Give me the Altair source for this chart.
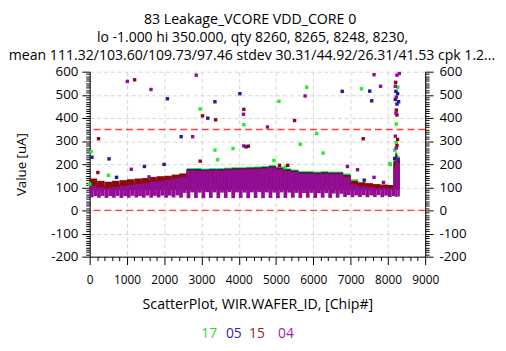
import altair as alt
import pandas as pd

FONT = "Open Sans"

series_names = ["17", "05", "15", "04"]
series_colors = ["#22ee22", "#1c1ca0", "#8c0a0a", "#930d97"]
legend_colors = ["#22dd22", "#2a2aa8", "#a01c1c", "#a020a8"]

title_lines = [
    "83 Leakage_VCORE VDD_CORE 0",
    "lo -1.000 hi 350.000,  qty 8260, 8265, 8248, 8230,",
    "mean 111.32/103.60/109.73/97.46 stdev 30.31/44.92/26.31/41.53 cpk 1.2...",
]
x_title = "ScatterPlot, WIR.WAFER_ID, [Chip#]"
y_title = "Value [uA]"
limit_values = [350, 0]

# dense body of the scatter: upper envelope per series, per 200-chip bin
hi_bin_start = list(range(0, 8200, 200))
hi_17 = [118, 110, 108, 112, 116, 120, 124, 128, 134, 138, 142, 148, 156, 183, 183, 181, 183, 183, 185, 187, 187,
         189, 190, 192, 196, 189, 182, 177, 170, 170, 168, 170, 168, 168, 160, 135, 118, 112, 108, 106, 104]
hi_05 = [112, 108, 106, 110, 114, 118, 122, 126, 132, 136, 140, 146, 152, 179, 179, 177, 179, 179, 181, 183, 183,
         185, 186, 188, 192, 185, 178, 173, 166, 166, 164, 166, 164, 164, 154, 126, 118, 114, 110, 108, 106]
hi_15 = [138, 128, 124, 128, 131, 135, 138, 140, 145, 148, 150, 155, 160, 175, 175, 173, 175, 175, 177, 179, 179,
         181, 182, 184, 188, 181, 174, 169, 162, 162, 160, 162, 160, 160, 150, 128, 122, 118, 114, 112, 110]
hi_04 = [108, 100, 98, 102, 106, 110, 115, 118, 124, 128, 132, 138, 145, 172, 172, 170, 172, 172, 174, 176, 176,
         178, 179, 181, 185, 178, 171, 166, 158, 158, 156, 158, 156, 156, 144, 112, 104, 100, 98, 97, 96]
body_floor = 90

# lower envelope of series 04 per 100-chip bin (comb of wafer dips)
lo_bin_start = list(range(0, 8200, 100))
lo_04 = [56, 62, 55, 63, 54, 62, 55, 63, 54, 62, 55, 63, 56, 62, 55, 64, 55, 63, 56, 64, 55, 64, 56, 65, 55,
         76, 53, 78, 54, 77, 53, 79, 54, 78, 53, 77, 54, 79, 53, 78, 54, 77, 53, 78, 54, 79, 53, 78, 54, 77, 53,
         78, 54, 77, 55, 76, 54, 75, 55, 76, 54, 74, 55, 75, 54, 73, 55, 72,
         58, 66, 57, 65, 58, 66, 57, 65, 58, 66, 57, 64, 58, 62]

# final wafer spike
spike_start = [8150, 8200, 8250]
spike_end = [8200, 8250, 8320]
spike_hi_17 = [220, 255, 235]
spike_hi_05 = [215, 245, 228]
spike_hi_15 = [205, 240, 215]
spike_hi_04 = [185, 232, 205]
spike_lo_04 = [62, 58, 60]

# isolated points
pts_17_chip = [0, 35, 501, 2964, 3360, 3431, 3845, 4135, 4943, 5076, 5243, 5648, 5823, 6088, 6263, 7292, 8067,
               8269, 8225, 8225, 8181, 8049]
pts_17_val = [114, 254, 152, 439, 261, 219, 268, 371, 216, 472, 187, 286, 533, 333, 248, 526, 198,
              533, 374, 293, 261, 202]
pts_05_chip = [61, 520, 721, 1469, 1997, 2085, 2454, 3167, 3360, 4030, 4196, 6774, 7363, 7513, 7566, 8216, 8260,
               8199, 8287, 8243, 8181]
pts_05_val = [230, 223, 143, 190, 199, 483, 319, 399, 470, 505, 275, 515, 131, 516, 474, 515, 505,
              480, 470, 460, 225]
pts_15_chip = [220, 238, 1206, 2964, 3027, 3378, 4135, 4257, 5093, 5313, 5497, 7337, 8208, 8225, 8243, 8260, 8243]
pts_15_val = [164, 310, 565, 213, 409, 392, 437, 278, 195, 195, 389, 310, 554, 434, 413, 307, 280]
pts_04_chip = [1011, 1116, 1591, 1645, 2763, 2858, 4125, 4135, 4768, 5779, 6914, 7186, 7627, 7627, 7803, 7882,
               8243, 8305, 8199, 8225, 8216, 8199, 8225]
pts_04_val = [558, 178, 145, 523, 319, 585, 416, 279, 361, 495, 190, 176, 143, 587, 537, 121,
              585, 592, 537, 490, 420, 321, 270]

# ---------------- tables ----------------
rows = []
for name, hi, shi in [("17", hi_17, spike_hi_17), ("05", hi_05, spike_hi_05), ("15", hi_15, spike_hi_15)]:
    for s, h in zip(hi_bin_start, hi):
        rows.append({"series": name, "x": s, "x2": s + 200, "y": body_floor, "y2": h})
    for s, e, h in zip(spike_start, spike_end, shi):
        rows.append({"series": name, "x": s, "x2": e, "y": body_floor, "y2": h})
for j, s in enumerate(lo_bin_start):
    rows.append({"series": "04", "x": s, "x2": s + 100, "y": lo_04[j], "y2": hi_04[j // 2]})
for s, e, lo, h in zip(spike_start, spike_end, spike_lo_04, spike_hi_04):
    rows.append({"series": "04", "x": s, "x2": e, "y": lo, "y2": h})
band_df = pd.DataFrame(rows)

prow = []
for name, cs, vs in [("17", pts_17_chip, pts_17_val), ("05", pts_05_chip, pts_05_val),
                     ("15", pts_15_chip, pts_15_val), ("04", pts_04_chip, pts_04_val)]:
    for c, v in zip(cs, vs):
        prow.append({"series": name, "chip": c, "value": v})
pts_df = pd.DataFrame(prow)
lim_df = pd.DataFrame({"v": limit_values})

xs = alt.Scale(domain=[0, 9000], nice=False, zero=False)
ys = alt.Scale(domain=[-200, 600], nice=False, zero=False)
color = alt.Color("series:N", scale=alt.Scale(domain=series_names, range=series_colors), legend=None)

MY = "datum.value % 100 === 0"
MX = "datum.value % 1000 === 0"


def y_axis(orient, grid, title):
    kw = dict(
        orient=orient,
        values=list(range(-200, 601, 10)),
        labelExpr=f"{MY} ? '' + datum.value : ''",
        tickSize={"condition": {"test": MY, "value": 8}, "value": 4},
        tickColor="black", domainColor="black", labelColor="black",
        labelFont=FONT, labelFontSize=13.5, labelPadding=4 if orient == "left" else 6,
        labelOverlap=False, labelFlush=False,
        grid=grid,
    )
    if grid:
        kw.update(gridColor="#d4d4d4", gridDash=[4, 3], gridWidth=1,
                  gridOpacity={"condition": {"test": MY, "value": 1}, "value": 0})
    if title:
        kw.update(title=title, titleFont=FONT, titleFontSize=13.5, titleFontWeight="normal", titleColor="black",
                  titleAngle=-90, titleX=-69, titleY=94, titleAlign="center", titleBaseline="middle")
    else:
        kw.update(title=None)
    return alt.Axis(**kw)


x_axis = alt.Axis(
    orient="bottom",
    values=list(range(0, 9001, 200)),
    labelExpr=f"{MX} ? '' + datum.value : ''",
    tickSize={"condition": {"test": MX, "value": 8}, "value": 4},
    tickColor="black", domainColor="black", labelColor="black",
    labelFont=FONT, labelFontSize=12, labelPadding=10,
    labelOverlap=False, labelFlush=False,
    grid=True, gridColor="#d4d4d4", gridDash=[4, 3],
    gridOpacity={"condition": {"test": MX, "value": 1}, "value": 0},
    title=x_title, titleFont=FONT, titleFontSize=14.4, titleFontWeight="normal", titleColor="black",
    titleY=49, titleBaseline="middle",
)

band = alt.Chart(band_df).mark_rect().encode(
    x=alt.X("x:Q", scale=xs, axis=None),
    x2="x2:Q",
    y=alt.Y("y:Q", scale=ys, axis=None),
    y2="y2:Q",
    color=color,
)

limits = alt.Chart(lim_df).mark_rule(color="#ff4040", strokeDash=[7, 4], strokeWidth=1.4).encode(
    y=alt.Y("v:Q", scale=ys, axis=y_axis("right", False, None)),
)

points = alt.Chart(pts_df).mark_square(size=12, opacity=1).encode(
    x=alt.X("chip:Q", scale=xs, axis=x_axis),
    y=alt.Y("value:Q", scale=ys, axis=y_axis("left", True, y_title)),
    color=color,
)

one = pd.DataFrame({"k": [0]})
text_layers = []
for name, col, px in zip(series_names, legend_colors, [121.5, 146.5, 170.0, 199.5]):
    text_layers.append(
        alt.Chart(one).mark_text(text=name, color=col, font=FONT, fontSize=14, align="center", baseline="middle")
        .encode(x=alt.value(px), y=alt.value(267))
    )
for line, py, cx, fs in zip(title_lines, [-52, -34, -16], [163, 165.5, 165], [14.4, 14.2, 14.3]):
    text_layers.append(
        alt.Chart(one).mark_text(text=line, color="black", font=FONT, fontSize=fs, align="center",
                                 baseline="middle")
        .encode(x=alt.value(cx), y=alt.value(py))
    )

chart = alt.layer(band, limits, points, *text_layers).resolve_axis(
    x="independent", y="independent"
).properties(
    width=341, height=188,
    autosize=alt.AutoSizeParams(type="none"),
    padding={"left": 83, "top": 62, "right": 74, "bottom": 85},
).configure_view(stroke=None)

chart.save("out.html", embed_options={"renderer": "svg", "actions": False})
